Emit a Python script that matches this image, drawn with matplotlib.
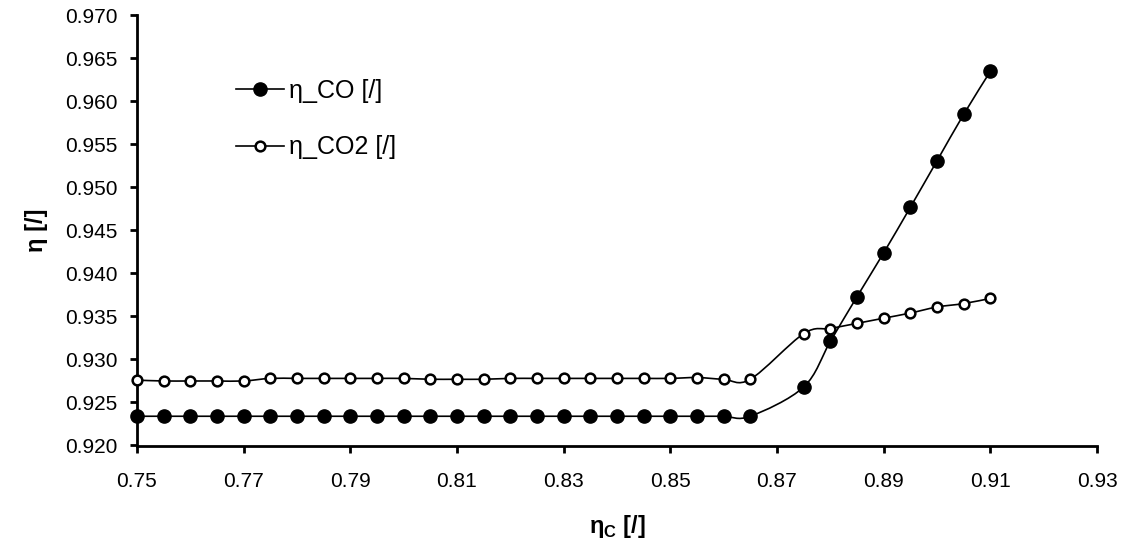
import matplotlib.pyplot as plt
from matplotlib.path import Path
from matplotlib.patches import PathPatch
from matplotlib.lines import Line2D
from matplotlib.ticker import FormatStrFormatter

plt.rcParams['font.family'] = ['Liberation Sans', 'DejaVu Sans']

eta_c = [0.750, 0.755, 0.760, 0.765, 0.770, 0.775, 0.780, 0.785, 0.790, 0.795,
         0.800, 0.805, 0.810, 0.815, 0.820, 0.825, 0.830, 0.835, 0.840, 0.845,
         0.850, 0.855, 0.860, 0.865, 0.875, 0.880, 0.885, 0.890, 0.895, 0.900,
         0.905, 0.910]

eta_co = [0.9234, 0.9234, 0.9234, 0.9234, 0.9234, 0.9234, 0.9234, 0.9234, 0.9234, 0.9234,
          0.9234, 0.9234, 0.9234, 0.9234, 0.9234, 0.9234, 0.9234, 0.9234, 0.9234, 0.9234,
          0.9234, 0.9234, 0.9234, 0.9234, 0.9268, 0.9321, 0.9373, 0.9424, 0.9477, 0.9531,
          0.9585, 0.9635]

eta_co2 = [0.9276, 0.9275, 0.9275, 0.9275, 0.9275, 0.9278, 0.9278, 0.9278, 0.9278, 0.9278,
           0.9278, 0.9277, 0.9277, 0.9277, 0.9278, 0.9278, 0.9278, 0.9278, 0.9278, 0.9278,
           0.9278, 0.9279, 0.9277, 0.9277, 0.9330, 0.9336, 0.9342, 0.9348, 0.9354, 0.9361,
           0.9365, 0.9371]

x_ticks = [0.75, 0.77, 0.79, 0.81, 0.83, 0.85, 0.87, 0.89, 0.91, 0.93]
y_ticks = [0.920, 0.925, 0.930, 0.935, 0.940, 0.945, 0.950, 0.955, 0.960, 0.965, 0.970]

labels = ['η_CO [/]', 'η_CO2 [/]']


def smooth_path(xs, ys):
    # excel-style smoothed line: catmull-rom turned into cubic beziers
    verts = [(xs[0], ys[0])]
    codes = [Path.MOVETO]
    n = len(xs)
    for i in range(n - 1):
        x0, y0 = (xs[i - 1], ys[i - 1]) if i > 0 else (xs[i], ys[i])
        x1, y1 = xs[i], ys[i]
        x2, y2 = xs[i + 1], ys[i + 1]
        x3, y3 = (xs[i + 2], ys[i + 2]) if i + 2 < n else (x2, y2)
        verts += [(x1 + (x2 - x0) / 6, y1 + (y2 - y0) / 6),
                  (x2 - (x3 - x1) / 6, y2 - (y3 - y1) / 6),
                  (x2, y2)]
        codes += [Path.CURVE4] * 3
    return Path(verts, codes)


fig, ax = plt.subplots(figsize=(11.31, 5.5), dpi=100)
fig.subplots_adjust(left=0.121, right=0.97, top=0.972, bottom=0.19)

for ys in (eta_co, eta_co2):
    ax.add_patch(PathPatch(smooth_path(eta_c, ys), fill=False, color='black', lw=1.2))

ax.plot(eta_c, eta_co, 'o', ms=9.5, mfc='black', mec='black', clip_on=False, zorder=3)
ax.plot(eta_c, eta_co2, 'o', ms=7, mfc='white', mec='black', mew=1.8, clip_on=False, zorder=3)

ax.set_xlim(0.75, 0.93)
ax.set_ylim(0.92, 0.97)
ax.set_xticks(x_ticks)
ax.set_yticks(y_ticks)
ax.xaxis.set_major_formatter(FormatStrFormatter('%.2f'))
ax.yaxis.set_major_formatter(FormatStrFormatter('%.3f'))

for s in ('top', 'right'):
    ax.spines[s].set_visible(False)
for s in ('left', 'bottom'):
    ax.spines[s].set_linewidth(2)
ax.tick_params(direction='out', length=5, width=2, labelsize=15)
ax.tick_params(axis='x', pad=14)
ax.tick_params(axis='y', pad=9)

ax.set_xlabel(r'η$_\mathregular{C}$ [/]', fontsize=17, fontweight='bold', labelpad=16)
ax.set_ylabel('η [/]', fontsize=17, fontweight='bold', labelpad=12)

handles = [Line2D([], [], color='black', lw=1.2, marker='o', ms=9.5, mfc='black', mec='black'),
           Line2D([], [], color='black', lw=1.2, marker='o', ms=7, mfc='white', mec='black', mew=1.8)]
ax.legend(handles, labels, loc='upper left', bbox_to_anchor=(0.08, 0.905), frameon=False,
          fontsize=18, handlelength=1.9, handletextpad=0.2, labelspacing=1.3)

fig.savefig('out.png', dpi=100)
